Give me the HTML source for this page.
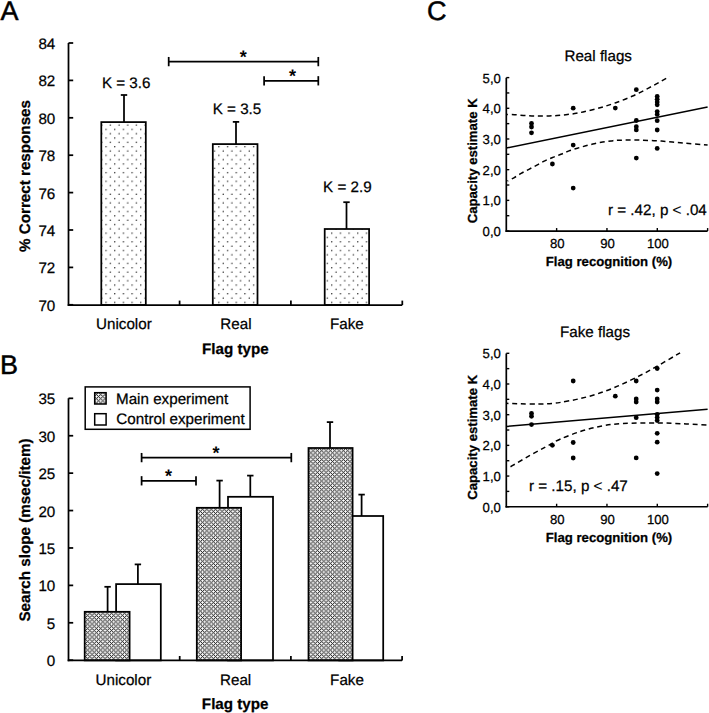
<!DOCTYPE html>
<html><head><meta charset="utf-8"><style>
html,body{margin:0;padding:0;background:#fff;}
svg{display:block;}
text{font-family:"Liberation Sans", sans-serif;fill:#000;text-rendering:geometricPrecision;}
</style></head><body>
<svg width="709" height="713" viewBox="0 0 709 713">
<defs>
<pattern id="dots" patternUnits="userSpaceOnUse" x="4.06" y="1.81" width="8.68" height="8.65">
<circle cx="2.17" cy="2.17" r="0.75" fill="#222"/><circle cx="6.51" cy="6.49" r="0.75" fill="#222"/>
</pattern>
<pattern id="hatch" patternUnits="userSpaceOnUse" x="7" y="6" width="13" height="13"><rect x="0" y="0" width="1" height="1" fill="#323232"/><rect x="1" y="0" width="1" height="1" fill="#d6d6d6"/><rect x="2" y="0" width="1" height="1" fill="#f9f9f9"/><rect x="3" y="0" width="1" height="1" fill="#e8e8e8"/><rect x="4" y="0" width="1" height="1" fill="#696969"/><rect x="5" y="0" width="1" height="1" fill="#949494"/><rect x="6" y="0" width="1" height="1" fill="#f0f0f0"/><rect x="7" y="0" width="1" height="1" fill="#f2f2f2"/><rect x="8" y="0" width="1" height="1" fill="#aaaaaa"/><rect x="9" y="0" width="1" height="1" fill="#5e5e5e"/><rect x="10" y="0" width="1" height="1" fill="#e7e7e7"/><rect x="11" y="0" width="1" height="1" fill="#fdfdfd"/><rect x="12" y="0" width="1" height="1" fill="#e1e1e1"/><rect x="0" y="1" width="1" height="1" fill="#d6d6d6"/><rect x="1" y="1" width="1" height="1" fill="#474747"/><rect x="2" y="1" width="1" height="1" fill="#c4c4c4"/><rect x="3" y="1" width="1" height="1" fill="#666666"/><rect x="4" y="1" width="1" height="1" fill="#a6a6a6"/><rect x="5" y="1" width="1" height="1" fill="#808080"/><rect x="6" y="1" width="1" height="1" fill="#909090"/><rect x="7" y="1" width="1" height="1" fill="#9a9a9a"/><rect x="8" y="1" width="1" height="1" fill="#6d6d6d"/><rect x="9" y="1" width="1" height="1" fill="#b0b0b0"/><rect x="10" y="1" width="1" height="1" fill="#5c5c5c"/><rect x="11" y="1" width="1" height="1" fill="#d9d9d9"/><rect x="12" y="1" width="1" height="1" fill="#3d3d3d"/><rect x="0" y="2" width="1" height="1" fill="#f9f9f9"/><rect x="1" y="2" width="1" height="1" fill="#c4c4c4"/><rect x="2" y="2" width="1" height="1" fill="#676767"/><rect x="3" y="2" width="1" height="1" fill="#a5a5a5"/><rect x="4" y="2" width="1" height="1" fill="#e8e8e8"/><rect x="5" y="2" width="1" height="1" fill="#d9d9d9"/><rect x="6" y="2" width="1" height="1" fill="#8a8a8a"/><rect x="7" y="2" width="1" height="1" fill="#838383"/><rect x="8" y="2" width="1" height="1" fill="#d2d2d2"/><rect x="9" y="2" width="1" height="1" fill="#ebebeb"/><rect x="10" y="2" width="1" height="1" fill="#acacac"/><rect x="11" y="2" width="1" height="1" fill="#5a5a5a"/><rect x="12" y="2" width="1" height="1" fill="#c0c0c0"/><rect x="0" y="3" width="1" height="1" fill="#e8e8e8"/><rect x="1" y="3" width="1" height="1" fill="#666666"/><rect x="2" y="3" width="1" height="1" fill="#a5a5a5"/><rect x="3" y="3" width="1" height="1" fill="#747474"/><rect x="4" y="3" width="1" height="1" fill="#bdbdbd"/><rect x="5" y="3" width="1" height="1" fill="#9a9a9a"/><rect x="6" y="3" width="1" height="1" fill="#8a8a8a"/><rect x="7" y="3" width="1" height="1" fill="#8f8f8f"/><rect x="8" y="3" width="1" height="1" fill="#898989"/><rect x="9" y="3" width="1" height="1" fill="#c6c6c6"/><rect x="10" y="3" width="1" height="1" fill="#6e6e6e"/><rect x="11" y="3" width="1" height="1" fill="#b0b0b0"/><rect x="12" y="3" width="1" height="1" fill="#5e5e5e"/><rect x="0" y="4" width="1" height="1" fill="#696969"/><rect x="1" y="4" width="1" height="1" fill="#a6a6a6"/><rect x="2" y="4" width="1" height="1" fill="#e8e8e8"/><rect x="3" y="4" width="1" height="1" fill="#bdbdbd"/><rect x="4" y="4" width="1" height="1" fill="#7d7d7d"/><rect x="5" y="4" width="1" height="1" fill="#8e8e8e"/><rect x="6" y="4" width="1" height="1" fill="#d0d0d0"/><rect x="7" y="4" width="1" height="1" fill="#d5d5d5"/><rect x="8" y="4" width="1" height="1" fill="#969696"/><rect x="9" y="4" width="1" height="1" fill="#797979"/><rect x="10" y="4" width="1" height="1" fill="#b8b8b8"/><rect x="11" y="4" width="1" height="1" fill="#f1f1f1"/><rect x="12" y="4" width="1" height="1" fill="#aaaaaa"/><rect x="0" y="5" width="1" height="1" fill="#949494"/><rect x="1" y="5" width="1" height="1" fill="#808080"/><rect x="2" y="5" width="1" height="1" fill="#d9d9d9"/><rect x="3" y="5" width="1" height="1" fill="#9a9a9a"/><rect x="4" y="5" width="1" height="1" fill="#8e8e8e"/><rect x="5" y="5" width="1" height="1" fill="#888888"/><rect x="6" y="5" width="1" height="1" fill="#b6b6b6"/><rect x="7" y="5" width="1" height="1" fill="#bdbdbd"/><rect x="8" y="5" width="1" height="1" fill="#858585"/><rect x="9" y="5" width="1" height="1" fill="#8f8f8f"/><rect x="10" y="5" width="1" height="1" fill="#939393"/><rect x="11" y="5" width="1" height="1" fill="#e7e7e7"/><rect x="12" y="5" width="1" height="1" fill="#7f7f7f"/><rect x="0" y="6" width="1" height="1" fill="#f0f0f0"/><rect x="1" y="6" width="1" height="1" fill="#909090"/><rect x="2" y="6" width="1" height="1" fill="#8a8a8a"/><rect x="3" y="6" width="1" height="1" fill="#8a8a8a"/><rect x="4" y="6" width="1" height="1" fill="#d0d0d0"/><rect x="5" y="6" width="1" height="1" fill="#b6b6b6"/><rect x="6" y="6" width="1" height="1" fill="#8a8a8a"/><rect x="7" y="6" width="1" height="1" fill="#8a8a8a"/><rect x="8" y="6" width="1" height="1" fill="#aaaaaa"/><rect x="9" y="6" width="1" height="1" fill="#d6d6d6"/><rect x="10" y="6" width="1" height="1" fill="#8a8a8a"/><rect x="11" y="6" width="1" height="1" fill="#8a8a8a"/><rect x="12" y="6" width="1" height="1" fill="#8a8a8a"/><rect x="0" y="7" width="1" height="1" fill="#f2f2f2"/><rect x="1" y="7" width="1" height="1" fill="#9a9a9a"/><rect x="2" y="7" width="1" height="1" fill="#838383"/><rect x="3" y="7" width="1" height="1" fill="#8f8f8f"/><rect x="4" y="7" width="1" height="1" fill="#d5d5d5"/><rect x="5" y="7" width="1" height="1" fill="#bdbdbd"/><rect x="6" y="7" width="1" height="1" fill="#8a8a8a"/><rect x="7" y="7" width="1" height="1" fill="#888888"/><rect x="8" y="7" width="1" height="1" fill="#b2b2b2"/><rect x="9" y="7" width="1" height="1" fill="#dbdbdb"/><rect x="10" y="7" width="1" height="1" fill="#909090"/><rect x="11" y="7" width="1" height="1" fill="#808080"/><rect x="12" y="7" width="1" height="1" fill="#949494"/><rect x="0" y="8" width="1" height="1" fill="#aaaaaa"/><rect x="1" y="8" width="1" height="1" fill="#6d6d6d"/><rect x="2" y="8" width="1" height="1" fill="#d2d2d2"/><rect x="3" y="8" width="1" height="1" fill="#898989"/><rect x="4" y="8" width="1" height="1" fill="#969696"/><rect x="5" y="8" width="1" height="1" fill="#858585"/><rect x="6" y="8" width="1" height="1" fill="#aaaaaa"/><rect x="7" y="8" width="1" height="1" fill="#b2b2b2"/><rect x="8" y="8" width="1" height="1" fill="#7d7d7d"/><rect x="9" y="8" width="1" height="1" fill="#9a9a9a"/><rect x="10" y="8" width="1" height="1" fill="#818181"/><rect x="11" y="8" width="1" height="1" fill="#e2e2e2"/><rect x="12" y="8" width="1" height="1" fill="#696969"/><rect x="0" y="9" width="1" height="1" fill="#5e5e5e"/><rect x="1" y="9" width="1" height="1" fill="#b0b0b0"/><rect x="2" y="9" width="1" height="1" fill="#ebebeb"/><rect x="3" y="9" width="1" height="1" fill="#c6c6c6"/><rect x="4" y="9" width="1" height="1" fill="#797979"/><rect x="5" y="9" width="1" height="1" fill="#8f8f8f"/><rect x="6" y="9" width="1" height="1" fill="#d6d6d6"/><rect x="7" y="9" width="1" height="1" fill="#dbdbdb"/><rect x="8" y="9" width="1" height="1" fill="#9a9a9a"/><rect x="9" y="9" width="1" height="1" fill="#747474"/><rect x="10" y="9" width="1" height="1" fill="#c2c2c2"/><rect x="11" y="9" width="1" height="1" fill="#f3f3f3"/><rect x="12" y="9" width="1" height="1" fill="#b5b5b5"/><rect x="0" y="10" width="1" height="1" fill="#e7e7e7"/><rect x="1" y="10" width="1" height="1" fill="#5c5c5c"/><rect x="2" y="10" width="1" height="1" fill="#acacac"/><rect x="3" y="10" width="1" height="1" fill="#6e6e6e"/><rect x="4" y="10" width="1" height="1" fill="#b8b8b8"/><rect x="5" y="10" width="1" height="1" fill="#939393"/><rect x="6" y="10" width="1" height="1" fill="#8a8a8a"/><rect x="7" y="10" width="1" height="1" fill="#909090"/><rect x="8" y="10" width="1" height="1" fill="#818181"/><rect x="9" y="10" width="1" height="1" fill="#c2c2c2"/><rect x="10" y="10" width="1" height="1" fill="#676767"/><rect x="11" y="10" width="1" height="1" fill="#b9b9b9"/><rect x="12" y="10" width="1" height="1" fill="#535353"/><rect x="0" y="11" width="1" height="1" fill="#fdfdfd"/><rect x="1" y="11" width="1" height="1" fill="#d9d9d9"/><rect x="2" y="11" width="1" height="1" fill="#5a5a5a"/><rect x="3" y="11" width="1" height="1" fill="#b0b0b0"/><rect x="4" y="11" width="1" height="1" fill="#f1f1f1"/><rect x="5" y="11" width="1" height="1" fill="#e7e7e7"/><rect x="6" y="11" width="1" height="1" fill="#8a8a8a"/><rect x="7" y="11" width="1" height="1" fill="#808080"/><rect x="8" y="11" width="1" height="1" fill="#e2e2e2"/><rect x="9" y="11" width="1" height="1" fill="#f3f3f3"/><rect x="10" y="11" width="1" height="1" fill="#b9b9b9"/><rect x="11" y="11" width="1" height="1" fill="#474747"/><rect x="12" y="11" width="1" height="1" fill="#d6d6d6"/><rect x="0" y="12" width="1" height="1" fill="#e1e1e1"/><rect x="1" y="12" width="1" height="1" fill="#3d3d3d"/><rect x="2" y="12" width="1" height="1" fill="#c0c0c0"/><rect x="3" y="12" width="1" height="1" fill="#5e5e5e"/><rect x="4" y="12" width="1" height="1" fill="#aaaaaa"/><rect x="5" y="12" width="1" height="1" fill="#7f7f7f"/><rect x="6" y="12" width="1" height="1" fill="#8a8a8a"/><rect x="7" y="12" width="1" height="1" fill="#949494"/><rect x="8" y="12" width="1" height="1" fill="#696969"/><rect x="9" y="12" width="1" height="1" fill="#b5b5b5"/><rect x="10" y="12" width="1" height="1" fill="#535353"/><rect x="11" y="12" width="1" height="1" fill="#d6d6d6"/><rect x="12" y="12" width="1" height="1" fill="#323232"/></pattern>
</defs>
<rect x="0" y="0" width="709" height="713" fill="#fff"/>
<text x="0.50" y="19.70" font-size="27.00" text-anchor="start" font-weight="normal" stroke="#000" stroke-width="0.5">A</text>
<rect x="101.30" y="122.10" width="44.50" height="182.90" fill="url(#dots)" stroke="#000" stroke-width="1.75"/>
<line x1="124.00" y1="122.10" x2="124.00" y2="95.00" stroke="#000" stroke-width="1.75" />
<line x1="120.80" y1="95.00" x2="127.20" y2="95.00" stroke="#000" stroke-width="1.75" />
<rect x="212.80" y="144.10" width="44.70" height="160.90" fill="url(#dots)" stroke="#000" stroke-width="1.75"/>
<line x1="236.00" y1="144.10" x2="236.00" y2="121.90" stroke="#000" stroke-width="1.75" />
<line x1="232.80" y1="121.90" x2="239.20" y2="121.90" stroke="#000" stroke-width="1.75" />
<rect x="324.70" y="229.00" width="44.40" height="76.00" fill="url(#dots)" stroke="#000" stroke-width="1.75"/>
<line x1="346.50" y1="229.00" x2="346.50" y2="202.20" stroke="#000" stroke-width="1.75" />
<line x1="343.30" y1="202.20" x2="349.70" y2="202.20" stroke="#000" stroke-width="1.75" />
<line x1="68.50" y1="42.90" x2="68.50" y2="305.80" stroke="#000" stroke-width="1.75" />
<line x1="67.70" y1="305.00" x2="402.30" y2="305.00" stroke="#000" stroke-width="1.75" />
<line x1="68.50" y1="304.80" x2="73.20" y2="304.80" stroke="#000" stroke-width="1.75" />
<text x="55.30" y="310.80" font-size="15.19" text-anchor="end" font-weight="normal" stroke="#000" stroke-width="0.25">70</text>
<line x1="68.50" y1="267.40" x2="73.20" y2="267.40" stroke="#000" stroke-width="1.75" />
<text x="55.30" y="273.40" font-size="15.19" text-anchor="end" font-weight="normal" stroke="#000" stroke-width="0.25">72</text>
<line x1="68.50" y1="230.00" x2="73.20" y2="230.00" stroke="#000" stroke-width="1.75" />
<text x="55.30" y="236.00" font-size="15.19" text-anchor="end" font-weight="normal" stroke="#000" stroke-width="0.25">74</text>
<line x1="68.50" y1="192.60" x2="73.20" y2="192.60" stroke="#000" stroke-width="1.75" />
<text x="55.30" y="198.60" font-size="15.19" text-anchor="end" font-weight="normal" stroke="#000" stroke-width="0.25">76</text>
<line x1="68.50" y1="155.20" x2="73.20" y2="155.20" stroke="#000" stroke-width="1.75" />
<text x="55.30" y="161.20" font-size="15.19" text-anchor="end" font-weight="normal" stroke="#000" stroke-width="0.25">78</text>
<line x1="68.50" y1="117.80" x2="73.20" y2="117.80" stroke="#000" stroke-width="1.75" />
<text x="55.30" y="123.80" font-size="15.19" text-anchor="end" font-weight="normal" stroke="#000" stroke-width="0.25">80</text>
<line x1="68.50" y1="80.40" x2="73.20" y2="80.40" stroke="#000" stroke-width="1.75" />
<text x="55.30" y="86.40" font-size="15.19" text-anchor="end" font-weight="normal" stroke="#000" stroke-width="0.25">82</text>
<line x1="68.50" y1="43.00" x2="73.20" y2="43.00" stroke="#000" stroke-width="1.75" />
<text x="55.30" y="49.00" font-size="15.19" text-anchor="end" font-weight="normal" stroke="#000" stroke-width="0.25">84</text>
<line x1="179.60" y1="300.60" x2="179.60" y2="305.00" stroke="#000" stroke-width="1.75" />
<line x1="290.90" y1="300.60" x2="290.90" y2="305.00" stroke="#000" stroke-width="1.75" />
<line x1="402.30" y1="300.60" x2="402.30" y2="305.00" stroke="#000" stroke-width="1.75" />
<text x="101.90" y="87.90" font-size="15.19" text-anchor="start" font-weight="normal" stroke="#000" stroke-width="0.25">K = 3.6</text>
<text x="212.70" y="113.90" font-size="15.19" text-anchor="start" font-weight="normal" stroke="#000" stroke-width="0.25">K = 3.5</text>
<text x="323.10" y="192.20" font-size="15.19" text-anchor="start" font-weight="normal" stroke="#000" stroke-width="0.25">K = 2.9</text>
<line x1="168.70" y1="61.60" x2="318.30" y2="61.60" stroke="#000" stroke-width="1.75" />
<line x1="168.70" y1="56.95" x2="168.70" y2="66.25" stroke="#000" stroke-width="1.75" />
<line x1="318.30" y1="56.95" x2="318.30" y2="66.25" stroke="#000" stroke-width="1.75" />
<line x1="264.10" y1="80.80" x2="318.30" y2="80.80" stroke="#000" stroke-width="1.75" />
<line x1="264.10" y1="76.15" x2="264.10" y2="85.45" stroke="#000" stroke-width="1.75" />
<line x1="318.30" y1="76.15" x2="318.30" y2="85.45" stroke="#000" stroke-width="1.75" />
<text x="243.30" y="62.60" font-size="18" font-weight="bold" text-anchor="middle">*</text>
<text x="292.60" y="82.20" font-size="18" font-weight="bold" text-anchor="middle">*</text>
<text x="123.90" y="329.40" font-size="15.19" text-anchor="middle" font-weight="normal" stroke="#000" stroke-width="0.25">Unicolor</text>
<text x="235.90" y="329.40" font-size="15.19" text-anchor="middle" font-weight="normal" stroke="#000" stroke-width="0.25">Real</text>
<text x="346.80" y="329.40" font-size="15.19" text-anchor="middle" font-weight="normal" stroke="#000" stroke-width="0.25">Fake</text>
<text x="235.40" y="353.80" font-size="15.19" text-anchor="middle" font-weight="bold" stroke="#000" stroke-width="0.25">Flag type</text>
<text transform="translate(29.80,176.00) rotate(-90)" font-size="15.19" text-anchor="middle" font-weight="bold" stroke="#000" stroke-width="0.25">% Correct responses</text>
<text x="0.10" y="374.20" font-size="27.00" text-anchor="start" font-weight="normal" stroke="#000" stroke-width="0.5">B</text>
<rect x="116.10" y="584.10" width="44.70" height="76.30" fill="#fff" stroke="#000" stroke-width="1.75"/>
<line x1="137.90" y1="584.10" x2="137.90" y2="564.40" stroke="#000" stroke-width="1.75" />
<line x1="134.70" y1="564.40" x2="141.10" y2="564.40" stroke="#000" stroke-width="1.75" />
<rect x="228.00" y="496.80" width="45.00" height="163.60" fill="#fff" stroke="#000" stroke-width="1.75"/>
<line x1="250.30" y1="496.80" x2="250.30" y2="475.60" stroke="#000" stroke-width="1.75" />
<line x1="247.10" y1="475.60" x2="253.50" y2="475.60" stroke="#000" stroke-width="1.75" />
<rect x="339.20" y="516.00" width="44.00" height="144.40" fill="#fff" stroke="#000" stroke-width="1.75"/>
<line x1="361.60" y1="516.00" x2="361.60" y2="494.60" stroke="#000" stroke-width="1.75" />
<line x1="358.40" y1="494.60" x2="364.80" y2="494.60" stroke="#000" stroke-width="1.75" />
<rect x="84.70" y="611.80" width="44.90" height="48.60" fill="url(#hatch)" stroke="#000" stroke-width="1.75"/>
<line x1="107.60" y1="611.80" x2="107.60" y2="586.80" stroke="#000" stroke-width="1.75" />
<line x1="104.40" y1="586.80" x2="110.80" y2="586.80" stroke="#000" stroke-width="1.75" />
<rect x="196.80" y="507.80" width="44.30" height="152.60" fill="url(#hatch)" stroke="#000" stroke-width="1.75"/>
<line x1="219.60" y1="507.80" x2="219.60" y2="480.60" stroke="#000" stroke-width="1.75" />
<line x1="216.40" y1="480.60" x2="222.80" y2="480.60" stroke="#000" stroke-width="1.75" />
<rect x="308.50" y="448.00" width="44.10" height="212.40" fill="url(#hatch)" stroke="#000" stroke-width="1.75"/>
<line x1="330.00" y1="448.00" x2="330.00" y2="422.10" stroke="#000" stroke-width="1.75" />
<line x1="326.80" y1="422.10" x2="333.20" y2="422.10" stroke="#000" stroke-width="1.75" />
<line x1="68.50" y1="398.30" x2="68.50" y2="661.20" stroke="#000" stroke-width="1.75" />
<line x1="67.70" y1="660.40" x2="402.10" y2="660.40" stroke="#000" stroke-width="1.75" />
<line x1="68.50" y1="660.20" x2="73.20" y2="660.20" stroke="#000" stroke-width="1.75" />
<text x="55.30" y="666.20" font-size="15.19" text-anchor="end" font-weight="normal" stroke="#000" stroke-width="0.25">0</text>
<line x1="68.50" y1="622.79" x2="73.20" y2="622.79" stroke="#000" stroke-width="1.75" />
<text x="55.30" y="628.79" font-size="15.19" text-anchor="end" font-weight="normal" stroke="#000" stroke-width="0.25">5</text>
<line x1="68.50" y1="585.38" x2="73.20" y2="585.38" stroke="#000" stroke-width="1.75" />
<text x="55.30" y="591.38" font-size="15.19" text-anchor="end" font-weight="normal" stroke="#000" stroke-width="0.25">10</text>
<line x1="68.50" y1="547.97" x2="73.20" y2="547.97" stroke="#000" stroke-width="1.75" />
<text x="55.30" y="553.97" font-size="15.19" text-anchor="end" font-weight="normal" stroke="#000" stroke-width="0.25">15</text>
<line x1="68.50" y1="510.56" x2="73.20" y2="510.56" stroke="#000" stroke-width="1.75" />
<text x="55.30" y="516.56" font-size="15.19" text-anchor="end" font-weight="normal" stroke="#000" stroke-width="0.25">20</text>
<line x1="68.50" y1="473.15" x2="73.20" y2="473.15" stroke="#000" stroke-width="1.75" />
<text x="55.30" y="479.15" font-size="15.19" text-anchor="end" font-weight="normal" stroke="#000" stroke-width="0.25">25</text>
<line x1="68.50" y1="435.74" x2="73.20" y2="435.74" stroke="#000" stroke-width="1.75" />
<text x="55.30" y="441.74" font-size="15.19" text-anchor="end" font-weight="normal" stroke="#000" stroke-width="0.25">30</text>
<line x1="68.50" y1="398.33" x2="73.20" y2="398.33" stroke="#000" stroke-width="1.75" />
<text x="55.30" y="404.33" font-size="15.19" text-anchor="end" font-weight="normal" stroke="#000" stroke-width="0.25">35</text>
<line x1="179.70" y1="656.00" x2="179.70" y2="660.40" stroke="#000" stroke-width="1.75" />
<line x1="290.90" y1="656.00" x2="290.90" y2="660.40" stroke="#000" stroke-width="1.75" />
<line x1="402.10" y1="656.00" x2="402.10" y2="660.40" stroke="#000" stroke-width="1.75" />
<rect x="85.20" y="386.90" width="164.90" height="42.40" fill="#fff" stroke="#000" stroke-width="1.5"/>
<rect x="94.70" y="392.70" width="11.40" height="11.30" fill="url(#hatch)" stroke="#000" stroke-width="1.5"/>
<rect x="94.70" y="413.70" width="11.40" height="11.30" fill="#fff" stroke="#000" stroke-width="1.5"/>
<text x="116.00" y="403.60" font-size="15.19" text-anchor="start" font-weight="normal" stroke="#000" stroke-width="0.25">Main experiment</text>
<text x="116.30" y="424.20" font-size="15.19" text-anchor="start" font-weight="normal" stroke="#000" stroke-width="0.25">Control experiment</text>
<line x1="141.60" y1="457.60" x2="291.30" y2="457.60" stroke="#000" stroke-width="1.75" />
<line x1="141.60" y1="452.95" x2="141.60" y2="462.25" stroke="#000" stroke-width="1.75" />
<line x1="291.30" y1="452.95" x2="291.30" y2="462.25" stroke="#000" stroke-width="1.75" />
<line x1="141.60" y1="480.80" x2="196.00" y2="480.80" stroke="#000" stroke-width="1.75" />
<line x1="141.60" y1="476.15" x2="141.60" y2="485.45" stroke="#000" stroke-width="1.75" />
<line x1="196.00" y1="476.15" x2="196.00" y2="485.45" stroke="#000" stroke-width="1.75" />
<text x="216.10" y="458.50" font-size="18" font-weight="bold" text-anchor="middle">*</text>
<text x="168.60" y="481.70" font-size="18" font-weight="bold" text-anchor="middle">*</text>
<text x="123.40" y="684.70" font-size="15.19" text-anchor="middle" font-weight="normal" stroke="#000" stroke-width="0.25">Unicolor</text>
<text x="235.60" y="684.70" font-size="15.19" text-anchor="middle" font-weight="normal" stroke="#000" stroke-width="0.25">Real</text>
<text x="347.00" y="684.70" font-size="15.19" text-anchor="middle" font-weight="normal" stroke="#000" stroke-width="0.25">Fake</text>
<text x="235.20" y="708.80" font-size="15.19" text-anchor="middle" font-weight="bold" stroke="#000" stroke-width="0.25">Flag type</text>
<text transform="translate(30.00,530.00) rotate(-90)" font-size="15.19" text-anchor="middle" font-weight="bold" stroke="#000" stroke-width="0.25">Search slope (msec/item)</text>
<text x="427.00" y="19.60" font-size="27.00" text-anchor="start" font-weight="normal" stroke="#000" stroke-width="0.5">C</text>
<path d="M507.00,114.40 C508.22,114.45 511.58,114.53 514.30,114.70 C517.02,114.87 520.37,115.20 523.30,115.40 C526.23,115.60 529.03,115.80 531.90,115.90 C534.77,116.00 537.63,116.00 540.50,116.00 C543.37,116.00 546.33,115.98 549.10,115.90 C551.87,115.82 554.30,115.70 557.10,115.50 C559.90,115.30 562.98,115.02 565.90,114.70 C568.82,114.38 571.73,114.07 574.60,113.60 C577.47,113.13 578.87,112.87 583.10,111.90 C587.33,110.93 594.55,109.33 600.00,107.80 C605.45,106.27 610.35,104.67 615.80,102.70 C621.25,100.73 627.25,98.43 632.70,96.00 C638.15,93.57 643.80,90.55 648.50,88.10 C653.20,85.65 657.42,83.23 660.90,81.30 C664.38,79.37 667.98,77.30 669.40,76.50" fill="none" stroke="#000" stroke-width="1.5" stroke-dasharray="5.0 3.70" stroke-dashoffset="3.90"/>
<path d="M507.50,181.00 C508.57,180.47 511.63,179.07 513.90,177.80 C516.17,176.53 518.60,174.82 521.10,173.40 C523.60,171.98 526.27,170.68 528.90,169.30 C531.53,167.92 534.25,166.52 536.90,165.10 C539.55,163.68 542.18,162.07 544.80,160.80 C547.42,159.53 549.92,158.58 552.60,157.50 C555.28,156.42 558.17,155.40 560.90,154.30 C563.63,153.20 566.25,151.92 569.00,150.90 C571.75,149.88 574.60,149.05 577.40,148.20 C580.20,147.35 582.98,146.55 585.80,145.80 C588.62,145.05 591.48,144.32 594.30,143.70 C597.12,143.08 599.88,142.57 602.70,142.10 C605.52,141.63 608.48,141.22 611.20,140.90 C613.92,140.58 614.47,140.33 619.00,140.20 C623.53,140.07 631.32,139.95 638.40,140.10 C645.48,140.25 653.80,140.60 661.50,141.10 C669.20,141.60 676.92,142.45 684.60,143.10 C692.28,143.75 703.77,144.68 707.60,145.00" fill="none" stroke="#000" stroke-width="1.5" stroke-dasharray="5.0 3.70" stroke-dashoffset="3.92"/>
<line x1="506.30" y1="148.00" x2="707.60" y2="107.00" stroke="#000" stroke-width="1.5" />
<circle cx="531.50" cy="123.40" r="2.4" fill="#000"/>
<circle cx="531.50" cy="127.00" r="2.4" fill="#000"/>
<circle cx="531.50" cy="132.80" r="2.4" fill="#000"/>
<circle cx="552.40" cy="164.00" r="2.4" fill="#000"/>
<circle cx="573.20" cy="108.20" r="2.4" fill="#000"/>
<circle cx="573.20" cy="145.10" r="2.4" fill="#000"/>
<circle cx="573.20" cy="188.10" r="2.4" fill="#000"/>
<circle cx="615.30" cy="108.10" r="2.4" fill="#000"/>
<circle cx="636.30" cy="89.70" r="2.4" fill="#000"/>
<circle cx="636.30" cy="120.50" r="2.4" fill="#000"/>
<circle cx="636.30" cy="126.70" r="2.4" fill="#000"/>
<circle cx="636.30" cy="129.90" r="2.4" fill="#000"/>
<circle cx="636.30" cy="158.10" r="2.4" fill="#000"/>
<circle cx="657.20" cy="96.50" r="2.4" fill="#000"/>
<circle cx="657.20" cy="99.30" r="2.4" fill="#000"/>
<circle cx="657.20" cy="102.10" r="2.4" fill="#000"/>
<circle cx="657.20" cy="104.80" r="2.4" fill="#000"/>
<circle cx="657.20" cy="111.60" r="2.4" fill="#000"/>
<circle cx="657.20" cy="114.40" r="2.4" fill="#000"/>
<circle cx="657.20" cy="120.70" r="2.4" fill="#000"/>
<circle cx="657.20" cy="130.00" r="2.4" fill="#000"/>
<circle cx="657.20" cy="148.40" r="2.4" fill="#000"/>
<line x1="506.30" y1="77.75" x2="506.30" y2="231.85" stroke="#000" stroke-width="1.7" />
<line x1="505.50" y1="231.05" x2="707.60" y2="231.05" stroke="#000" stroke-width="1.7" />
<line x1="506.30" y1="231.05" x2="509.30" y2="231.05" stroke="#000" stroke-width="1.4" />
<text x="500.90" y="236.15" font-size="13.17" text-anchor="end" font-weight="normal" stroke="#000" stroke-width="0.25">0,0</text>
<line x1="506.30" y1="215.71" x2="509.30" y2="215.71" stroke="#000" stroke-width="1.4" />
<line x1="506.30" y1="200.36" x2="509.30" y2="200.36" stroke="#000" stroke-width="1.4" />
<text x="500.90" y="205.46" font-size="13.17" text-anchor="end" font-weight="normal" stroke="#000" stroke-width="0.25">1,0</text>
<line x1="506.30" y1="185.02" x2="509.30" y2="185.02" stroke="#000" stroke-width="1.4" />
<line x1="506.30" y1="169.67" x2="509.30" y2="169.67" stroke="#000" stroke-width="1.4" />
<text x="500.90" y="174.77" font-size="13.17" text-anchor="end" font-weight="normal" stroke="#000" stroke-width="0.25">2,0</text>
<line x1="506.30" y1="154.32" x2="509.30" y2="154.32" stroke="#000" stroke-width="1.4" />
<line x1="506.30" y1="138.98" x2="509.30" y2="138.98" stroke="#000" stroke-width="1.4" />
<text x="500.90" y="144.08" font-size="13.17" text-anchor="end" font-weight="normal" stroke="#000" stroke-width="0.25">3,0</text>
<line x1="506.30" y1="123.64" x2="509.30" y2="123.64" stroke="#000" stroke-width="1.4" />
<line x1="506.30" y1="108.29" x2="509.30" y2="108.29" stroke="#000" stroke-width="1.4" />
<text x="500.90" y="113.39" font-size="13.17" text-anchor="end" font-weight="normal" stroke="#000" stroke-width="0.25">4,0</text>
<line x1="506.30" y1="92.94" x2="509.30" y2="92.94" stroke="#000" stroke-width="1.4" />
<line x1="506.30" y1="77.60" x2="509.30" y2="77.60" stroke="#000" stroke-width="1.4" />
<text x="500.90" y="82.70" font-size="13.17" text-anchor="end" font-weight="normal" stroke="#000" stroke-width="0.25">5,0</text>
<line x1="556.63" y1="228.05" x2="556.63" y2="231.05" stroke="#000" stroke-width="1.4" />
<text x="557.23" y="248.45" font-size="13.17" text-anchor="middle" font-weight="normal" stroke="#000" stroke-width="0.25">80</text>
<line x1="606.96" y1="228.05" x2="606.96" y2="231.05" stroke="#000" stroke-width="1.4" />
<text x="607.56" y="248.45" font-size="13.17" text-anchor="middle" font-weight="normal" stroke="#000" stroke-width="0.25">90</text>
<line x1="657.29" y1="228.05" x2="657.29" y2="231.05" stroke="#000" stroke-width="1.4" />
<text x="657.89" y="248.45" font-size="13.17" text-anchor="middle" font-weight="normal" stroke="#000" stroke-width="0.25">100</text>
<line x1="707.62" y1="228.05" x2="707.62" y2="231.05" stroke="#000" stroke-width="1.4" />
<text x="609.00" y="265.95" font-size="13.17" text-anchor="middle" font-weight="bold" stroke="#000" stroke-width="0.25">Flag recognition (%)</text>
<text transform="translate(476.80,160.80) rotate(-90)" font-size="13.17" text-anchor="middle" font-weight="bold" stroke="#000" stroke-width="0.25">Capacity estimate K</text>
<text x="598.20" y="61.00" font-size="15.19" text-anchor="middle" font-weight="normal" stroke="#000" stroke-width="0.25">Real flags</text>
<text x="608.00" y="215.40" font-size="15.19" text-anchor="start" font-weight="normal" stroke="#000" stroke-width="0.25">r = .42, p &lt; .04</text>
<path d="M506.50,403.30 C508.75,403.38 514.65,403.68 520.00,403.80 C525.35,403.92 533.27,404.07 538.60,404.00 C543.93,403.93 548.27,403.68 552.00,403.40 C555.73,403.12 556.62,403.03 561.00,402.30 C565.38,401.57 572.35,400.37 578.30,399.00 C584.25,397.63 590.58,396.05 596.70,394.10 C602.82,392.15 608.90,389.83 615.00,387.30 C621.10,384.77 627.18,381.90 633.30,378.90 C639.42,375.90 643.90,373.65 651.70,369.30 C659.50,364.95 675.37,355.55 680.10,352.80" fill="none" stroke="#000" stroke-width="1.5" stroke-dasharray="5.0 3.70" stroke-dashoffset="2.96"/>
<path d="M507.50,468.30 C508.30,467.87 508.70,467.77 512.30,465.70 C515.90,463.63 523.50,459.05 529.10,455.90 C534.70,452.75 540.75,449.58 545.90,446.80 C551.05,444.02 554.15,441.78 560.00,439.20 C565.85,436.62 574.00,433.50 581.00,431.30 C588.00,429.10 594.98,427.30 602.00,426.00 C609.02,424.70 613.98,424.02 623.10,423.50 C632.22,422.98 646.20,422.83 656.70,422.90 C667.20,422.97 677.62,423.55 686.10,423.90 C694.58,424.25 704.02,424.82 707.60,425.00" fill="none" stroke="#000" stroke-width="1.5" stroke-dasharray="5.0 3.70" stroke-dashoffset="5.23"/>
<line x1="506.30" y1="426.50" x2="707.60" y2="409.30" stroke="#000" stroke-width="1.5" />
<circle cx="531.50" cy="413.50" r="2.4" fill="#000"/>
<circle cx="531.50" cy="416.30" r="2.4" fill="#000"/>
<circle cx="531.50" cy="424.60" r="2.4" fill="#000"/>
<circle cx="552.40" cy="445.30" r="2.4" fill="#000"/>
<circle cx="573.20" cy="381.00" r="2.4" fill="#000"/>
<circle cx="573.20" cy="442.50" r="2.4" fill="#000"/>
<circle cx="573.20" cy="458.00" r="2.4" fill="#000"/>
<circle cx="615.30" cy="396.20" r="2.4" fill="#000"/>
<circle cx="636.20" cy="381.00" r="2.4" fill="#000"/>
<circle cx="636.20" cy="399.00" r="2.4" fill="#000"/>
<circle cx="636.20" cy="402.00" r="2.4" fill="#000"/>
<circle cx="636.20" cy="417.70" r="2.4" fill="#000"/>
<circle cx="636.20" cy="457.90" r="2.4" fill="#000"/>
<circle cx="657.20" cy="368.50" r="2.4" fill="#000"/>
<circle cx="657.20" cy="390.10" r="2.4" fill="#000"/>
<circle cx="657.20" cy="399.00" r="2.4" fill="#000"/>
<circle cx="657.20" cy="402.00" r="2.4" fill="#000"/>
<circle cx="657.20" cy="414.30" r="2.4" fill="#000"/>
<circle cx="657.20" cy="417.40" r="2.4" fill="#000"/>
<circle cx="657.20" cy="420.50" r="2.4" fill="#000"/>
<circle cx="657.20" cy="433.30" r="2.4" fill="#000"/>
<circle cx="657.20" cy="442.20" r="2.4" fill="#000"/>
<circle cx="657.20" cy="473.60" r="2.4" fill="#000"/>
<line x1="506.30" y1="353.45" x2="506.30" y2="507.55" stroke="#000" stroke-width="1.7" />
<line x1="505.50" y1="506.75" x2="707.60" y2="506.75" stroke="#000" stroke-width="1.7" />
<line x1="506.30" y1="506.75" x2="509.30" y2="506.75" stroke="#000" stroke-width="1.4" />
<text x="500.90" y="511.85" font-size="13.17" text-anchor="end" font-weight="normal" stroke="#000" stroke-width="0.25">0,0</text>
<line x1="506.30" y1="491.40" x2="509.30" y2="491.40" stroke="#000" stroke-width="1.4" />
<line x1="506.30" y1="476.06" x2="509.30" y2="476.06" stroke="#000" stroke-width="1.4" />
<text x="500.90" y="481.16" font-size="13.17" text-anchor="end" font-weight="normal" stroke="#000" stroke-width="0.25">1,0</text>
<line x1="506.30" y1="460.71" x2="509.30" y2="460.71" stroke="#000" stroke-width="1.4" />
<line x1="506.30" y1="445.37" x2="509.30" y2="445.37" stroke="#000" stroke-width="1.4" />
<text x="500.90" y="450.47" font-size="13.17" text-anchor="end" font-weight="normal" stroke="#000" stroke-width="0.25">2,0</text>
<line x1="506.30" y1="430.02" x2="509.30" y2="430.02" stroke="#000" stroke-width="1.4" />
<line x1="506.30" y1="414.68" x2="509.30" y2="414.68" stroke="#000" stroke-width="1.4" />
<text x="500.90" y="419.78" font-size="13.17" text-anchor="end" font-weight="normal" stroke="#000" stroke-width="0.25">3,0</text>
<line x1="506.30" y1="399.33" x2="509.30" y2="399.33" stroke="#000" stroke-width="1.4" />
<line x1="506.30" y1="383.99" x2="509.30" y2="383.99" stroke="#000" stroke-width="1.4" />
<text x="500.90" y="389.09" font-size="13.17" text-anchor="end" font-weight="normal" stroke="#000" stroke-width="0.25">4,0</text>
<line x1="506.30" y1="368.64" x2="509.30" y2="368.64" stroke="#000" stroke-width="1.4" />
<line x1="506.30" y1="353.30" x2="509.30" y2="353.30" stroke="#000" stroke-width="1.4" />
<text x="500.90" y="358.40" font-size="13.17" text-anchor="end" font-weight="normal" stroke="#000" stroke-width="0.25">5,0</text>
<line x1="556.63" y1="503.75" x2="556.63" y2="506.75" stroke="#000" stroke-width="1.4" />
<text x="557.23" y="524.15" font-size="13.17" text-anchor="middle" font-weight="normal" stroke="#000" stroke-width="0.25">80</text>
<line x1="606.96" y1="503.75" x2="606.96" y2="506.75" stroke="#000" stroke-width="1.4" />
<text x="607.56" y="524.15" font-size="13.17" text-anchor="middle" font-weight="normal" stroke="#000" stroke-width="0.25">90</text>
<line x1="657.29" y1="503.75" x2="657.29" y2="506.75" stroke="#000" stroke-width="1.4" />
<text x="657.89" y="524.15" font-size="13.17" text-anchor="middle" font-weight="normal" stroke="#000" stroke-width="0.25">100</text>
<line x1="707.62" y1="503.75" x2="707.62" y2="506.75" stroke="#000" stroke-width="1.4" />
<text x="609.00" y="541.65" font-size="13.17" text-anchor="middle" font-weight="bold" stroke="#000" stroke-width="0.25">Flag recognition (%)</text>
<text transform="translate(476.80,437.30) rotate(-90)" font-size="13.17" text-anchor="middle" font-weight="bold" stroke="#000" stroke-width="0.25">Capacity estimate K</text>
<text x="595.00" y="336.50" font-size="15.19" text-anchor="middle" font-weight="normal" stroke="#000" stroke-width="0.25">Fake flags</text>
<text x="529.00" y="490.80" font-size="15.19" text-anchor="start" font-weight="normal" stroke="#000" stroke-width="0.25">r = .15, p &lt; .47</text>
</svg></body></html>
